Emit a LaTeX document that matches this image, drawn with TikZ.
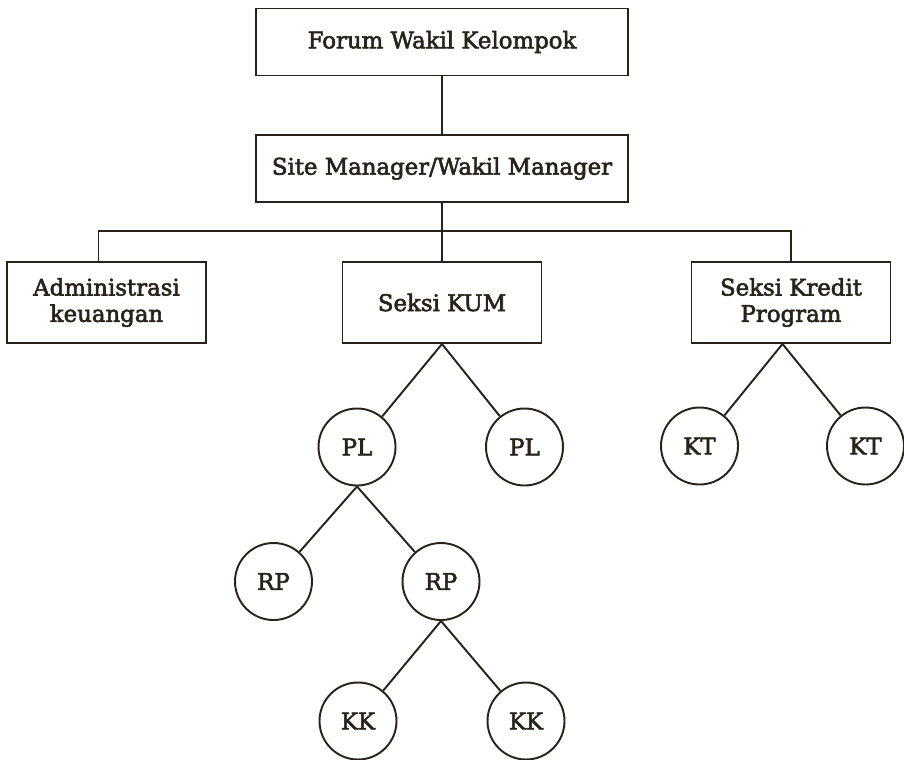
\documentclass[tikz,border=0pt]{standalone}
\usepackage{fontspec}
\setmainfont{DejaVu Serif}[FakeBold=2.5]
\usetikzlibrary{shapes,positioning}
\definecolor{ink}{RGB}{40,34,28}

\begin{document}
\begin{tikzpicture}[on grid,auto,line width=1.1pt,color=ink,
    font=\fontsize{13}{15}\selectfont]
  \tikzset{
    head/.style={rectangle,draw,minimum width=7.45cm,minimum height=1.34cm},
    unit/.style={rectangle,draw,minimum width=3.98cm,minimum height=1.62cm,align=center},
    member/.style={circle,draw,minimum size=1.54cm,inner sep=0pt}
  }
  \useasboundingbox (0,0) rectangle (18.08,-15.18);

   \node[head] (forum) at (8.84,-0.84) {Forum Wakil Kelompok};
   \node[head] (site) [below=2.53cm of forum] {Site Manager/Wakil Manager};
   \node[unit] (kum) [below=2.68cm of site] {Seksi KUM};
   \node[unit] (admin) [left=6.71cm of kum] {Administrasi\\keuangan};
   \node[unit] (kredit) [right=6.98cm of kum] {Seksi Kredit\\Program};

   \node[member] (pl_1) [below left=2.89cm and 1.7cm of kum] {PL};
   \node[member] (pl_2) [below right=2.89cm and 1.65cm of kum] {PL};
   \node[member] (kt_1) [below left=2.87cm and 1.83cm of kredit] {KT};
   \node[member] (kt_2) [below right=2.87cm and 1.49cm of kredit] {KT};
   \node[member] (rp_1) [below left=2.69cm and 1.67cm of pl_1] {RP};
   \node[member] (rp_2) [below right=2.69cm and 1.68cm of pl_1] {RP};
   \node[member] (kk_1) [below left=2.79cm and 1.66cm of rp_2] {KK};
   \node[member] (kk_2) [below right=2.79cm and 1.7cm of rp_2] {KK};

   % bus line under the site manager
   \coordinate (admin_top) at ([xshift=-0.16cm]admin.north);
   \coordinate (bus_l) at ([yshift=0.61cm]admin_top);
   \coordinate (kredit_bot) at ([xshift=-0.17cm]kredit.south);

   \draw (forum) -- (site);
   \draw (site) -- (kum);
   \draw (admin_top) -- (bus_l) -| (kredit.north);

    \path
    (kum.south) edge (pl_1)
                edge (pl_2)
    (kredit_bot) edge (kt_1)
                 edge (kt_2)
    (pl_1.south) edge (rp_1)
                 edge (rp_2)
    (rp_2.south) edge (kk_1)
                 edge (kk_2);
\end{tikzpicture}
\end{document}
